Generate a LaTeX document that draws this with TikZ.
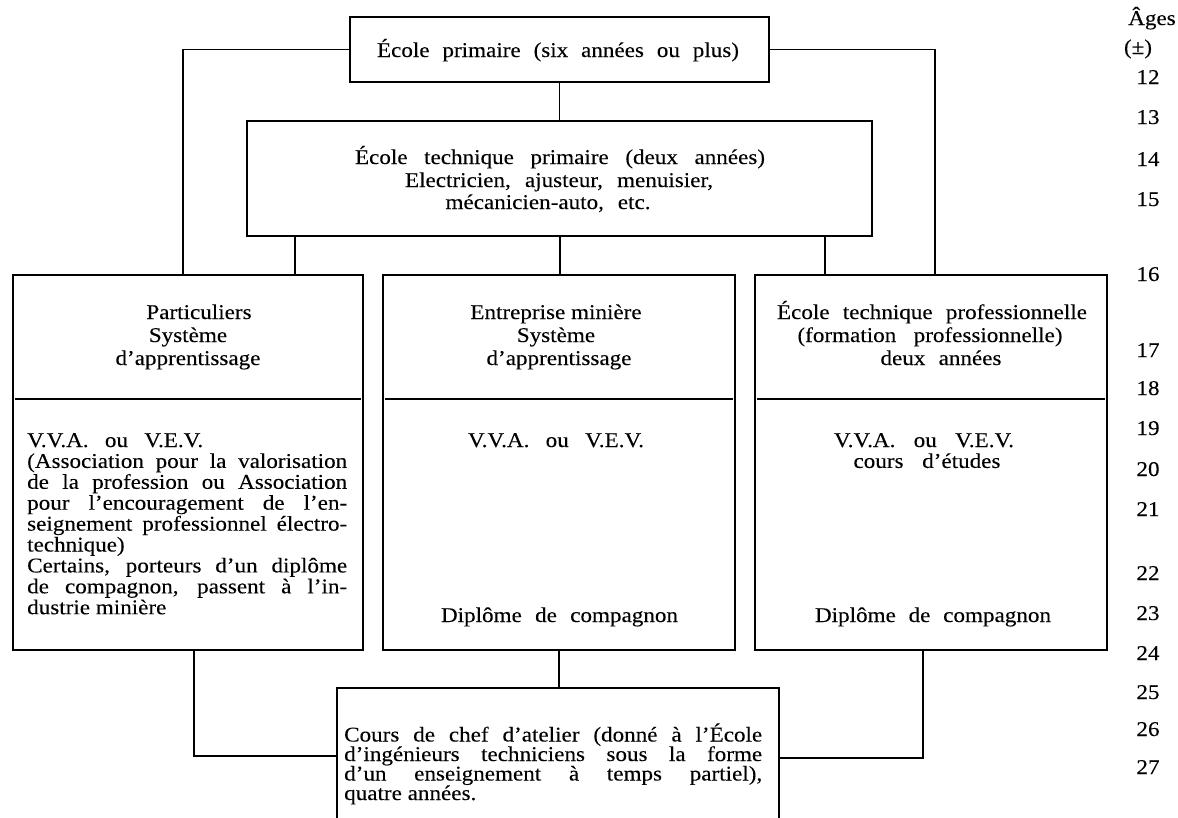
\documentclass[tikz,border=0pt]{standalone}
\usepackage{fontspec}
\setmainfont{Liberation Serif}[FakeStretch=1.1, FakeBold=0.12]
% a line whose word spaces are stretched to the given width
\newcommand{\spread}[2]{\makebox[#1][s]{#2}}
\begin{document}
\begin{tikzpicture}[x=1pt,y=-1pt,
  box/.style={draw, line width=1.5pt, rectangle, inner sep=0pt},
  link/.style={line width=1.5pt},
  heavy/.style={line width=2.5pt},
  txt/.style={anchor=base, inner sep=0pt, font=\fontsize{21}{21}\selectfont},
  txtl/.style={txt, anchor=base west},
  age/.style={anchor=base, inner sep=0pt, font=\fontsize{21}{21}\selectfont},
]
\useasboundingbox (0,0) rectangle (1178,817);

% ---------- boxes ----------
\node[box, minimum width=419pt, minimum height=65pt]  (prim) at (559.5,49.5) {};
\node[box, minimum width=625pt, minimum height=115pt] (tech) at (559.5,178.5) {};
\node[box, minimum width=350pt, minimum height=375pt] (pa)   at (188,462.5) {};
\node[box, minimum width=352pt, minimum height=375pt] (mi)   at (559,462.5) {};
\node[box, minimum width=352pt, minimum height=375pt] (pro)  at (931,462.5) {};
\node[box, minimum width=442pt, minimum height=170pt] (chef) at (558,773) {};

% dividers inside the three middle boxes
\draw[link] ([xshift=3pt]pa.west |- 0,399)  -- ([xshift=-3pt]pa.east |- 0,399);
\draw[link] ([xshift=3pt]mi.west |- 0,399)  -- ([xshift=-3pt]mi.east |- 0,399);
\draw[link] ([xshift=3pt]pro.west |- 0,399) -- ([xshift=-3pt]pro.east |- 0,399);

% ---------- connectors ----------
\draw[link] (prim.west) -| (183,0 |- pa.north);
\draw[link] (prim.east) -| (935,0 |- pro.north);
\draw[link] (prim.south) -- (tech.north);
\draw[link] (295,0 |- tech.south) -- (295,0 |- pa.north);
\draw[link] (560,0 |- tech.south) -- (560,0 |- mi.north);
\draw[link] (825,0 |- tech.south) -- (825,0 |- pro.north);
\draw[link] (559,0 |- mi.south) -- (559,0 |- chef.north);
\draw[heavy] (194,0 |- pa.south) |- (chef.west |- 0,756);
\draw[heavy] (923,0 |- pro.south) |- (chef.east |- 0,758);

% ---------- texts ----------
\node[txt] (primT) at (558,57) {\spread{362pt}{École primaire (six années ou plus)}};

\node[txt] (techA) at (560,164) {\spread{410pt}{École technique primaire (deux années)}};
\node[txt] (techB) at (559,187) {\spread{308pt}{Electricien, ajusteur, menuisier,}};
\node[txt] (techC) at (548,209) {\spread{205pt}{mécanicien-auto, etc.}};

% left column
\node[txt] (paH1) at (199,319) {Particuliers};
\node[txt] (paH2) at (188,342) {Système};
\node[txt] (paH3) at (188,365) {d’apprentissage};
\node[txtl] (paB1) at (27,447)   {\spread{176pt}{V.V.A. ou V.E.V.}};
\node[txtl] (paB2) at (27,467.9) {\spread{320pt}{(Association pour la valorisation}};
\node[txtl] (paB3) at (27,488.8) {\spread{320pt}{de la profession ou Association}};
\node[txtl] (paB4) at (27,509.7) {\spread{320pt}{pour l’encouragement de l’en-}};
\node[txtl] (paB5) at (27,530.6) {\spread{320pt}{seignement professionnel électro-}};
\node[txtl] (paB6) at (27,551.5) {technique)};
\node[txtl] (paB7) at (27,572.4) {\spread{320pt}{Certains, porteurs d’un diplôme}};
\node[txtl] (paB8) at (27,593.3) {\spread{320pt}{de compagnon, passent à l’in-}};
\node[txtl] (paB9) at (27,614.2) {dustrie minière};

% middle column
\node[txt] (miH1) at (556,319) {Entreprise minière};
\node[txt] (miH2) at (556,342) {Système};
\node[txt] (miH3) at (559,365) {d’apprentissage};
\node[txt] (miB1) at (556,447) {\spread{176pt}{V.V.A. ou V.E.V.}};
\node[txt] (miB2) at (559.5,622) {\spread{237pt}{Diplôme de compagnon}};

% right column
\node[txt] (proH1) at (932,319) {\spread{310pt}{École technique professionnelle}};
\node[txt] (proH2) at (930,342) {\spread{265pt}{(formation professionnelle)}};
\node[txt] (proH3) at (941,365) {\spread{121pt}{deux années}};
\node[txt] (proB1) at (924,447) {\spread{180pt}{V.V.A. ou V.E.V.}};
\node[txt] (proB2) at (927,467.9) {\spread{147pt}{cours d’études}};
\node[txt] (proB3) at (933,622) {\spread{236pt}{Diplôme de compagnon}};

% bottom box
\node[txtl] (chefA) at (344,741.5) {\spread{418pt}{Cours de chef d’atelier (donné à l’École}};
\node[txtl] (chefB) at (344,761)   {\spread{418pt}{d’ingénieurs techniciens sous la forme}};
\node[txtl] (chefC) at (344,780.5) {\spread{418pt}{d’un enseignement à temps partiel),}};
\node[txtl] (chefD) at (344,800)   {quatre années.};

% ---------- age scale ----------
\node[age] (agesT) at (1152,25) {Âges};
\node[age] (agesPM) at (1138,54) {(±)};
\foreach \a/\y in {12/84,13/124,14/166,15/206,16/281,17/357,18/395,19/435,
                   20/476,21/516,22/580,23/620,24/660,25/699,26/736,27/774}
  \node[age] (age\a) at (1148,\y) {\a};
\end{tikzpicture}
\end{document}
